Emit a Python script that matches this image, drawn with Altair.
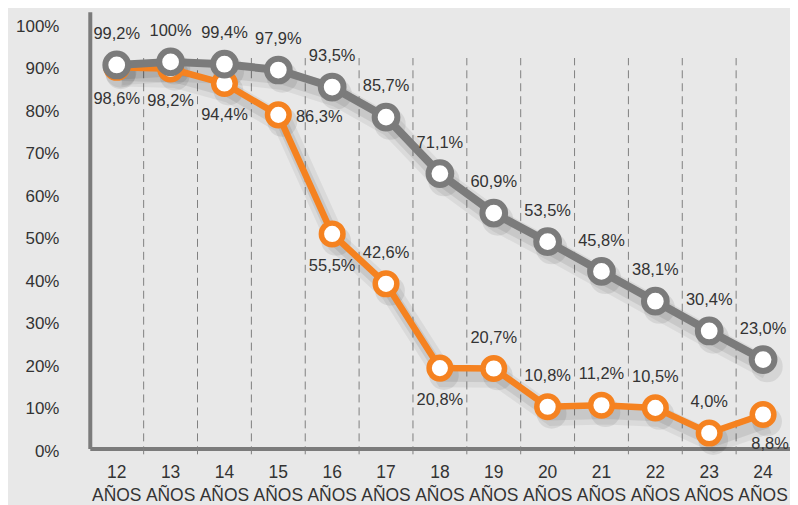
import altair as alt
import pandas as pd

AGES = ["12", "13", "14", "15", "16", "17", "18", "19", "20", "21", "22", "23", "24"]
GRAY_VALUES = [99.2, 100, 99.4, 97.9, 93.5, 85.7, 71.1, 60.9, 53.5, 45.8, 38.1, 30.4, 23.0]
ORANGE_VALUES = [98.6, 98.2, 94.4, 86.3, 55.5, 42.6, 20.8, 20.7, 10.8, 11.2, 10.5, 4.0, 8.8]
ORANGE_LABEL_SIDE = ["below", "below", "below", "right", "below", "above", "below",
                     "above", "above", "above", "above", "above", "belowright"]
Y_TICK_LABELS = ["0%", "10%", "20%", "30%", "40%", "50%", "60%", "70%", "80%", "90%", "100%"]

GRAY = "#7b7b7b"
ORANGE = "#f58220"
TEXT = "#333333"
FONT = "Liberation Sans"


def fmt(v):
    return "100%" if v == 100 else f"{v:.1f}".replace(".", ",") + "%"


gray = pd.DataFrame({"age": AGES, "v": GRAY_VALUES, "label": [fmt(v) for v in GRAY_VALUES]})
orange = pd.DataFrame({"age": AGES, "v": ORANGE_VALUES,
                       "label": [fmt(v) for v in ORANGE_VALUES], "side": ORANGE_LABEL_SIDE})
grid = pd.DataFrame({"age": AGES[1:]})

# the printed chart places 100% of the data at ~91% of its axis; tick i*11 is labelled i*10%
tick_vals = [i * 11 for i in range(len(Y_TICK_LABELS))]

x_scale = alt.Scale(type="band", domain=AGES, paddingInner=0, paddingOuter=0)
y_scale = alt.Scale(domain=[0, 113], nice=False)

x_axis = alt.Axis(title=None, domain=True, domainColor=GRAY, domainWidth=4, ticks=False, tickSize=0,
                  grid=False, labelAngle=0, labelFont=FONT, labelFontSize=17.5, labelColor=TEXT,
                  labelPadding=15, labelLineHeight=23, labelExpr="[datum.label, 'AÑOS']")
y_axis = alt.Axis(title=None, domain=True, domainColor=GRAY, domainWidth=4, ticks=False, tickSize=0,
                  grid=False, values=tick_vals, labelFont=FONT, labelFontSize=17, labelColor=TEXT,
                  labelPadding=31, labelOffset=3,
                  labelExpr="round(datum.value / 1.1) + '%'")

X = alt.X("age:N", scale=x_scale, axis=x_axis)
Xn = alt.X("age:N", scale=x_scale)
Y = alt.Y("v:Q", scale=y_scale, axis=y_axis)
Yn = alt.Y("v:Q", scale=y_scale)

gridlines = alt.Chart(grid).mark_rule(color="#7f7f7f", strokeWidth=1, strokeDash=[8, 5]).encode(
    x=alt.X("age:N", scale=x_scale, bandPosition=0, axis=x_axis),
    y=alt.datum(-1.5, scale=y_scale, axis=y_axis),
    y2=alt.datum(101),
)


def series(df, color, lw, size, sw):
    base = alt.Chart(df)
    sh1 = base.mark_line(color="black", opacity=0.06, strokeWidth=lw + 14, xOffset=5, yOffset=9).encode(x=Xn, y=Yn)
    sh2 = base.mark_line(color="black", opacity=0.08, strokeWidth=lw + 5, xOffset=4, yOffset=8).encode(x=Xn, y=Yn)
    psh = base.mark_circle(color="black", opacity=0.08, size=size * 1.9, xOffset=4, yOffset=7).encode(x=Xn, y=Yn)
    line = base.mark_line(color=color, strokeWidth=lw).encode(x=Xn, y=Yn)
    pts = base.mark_point(shape="circle", filled=True, fill="white", stroke=color, strokeWidth=sw,
                          size=size, opacity=1).encode(x=Xn, y=Yn)
    return [sh1, sh2, psh], [line, pts]


o_sh, o_main = series(orange, ORANGE, 6.5, 470, 5.5)
g_sh, g_main = series(gray, GRAY, 8, 520, 6)

txt = dict(font=FONT, fontSize=16.5, color=TEXT)
g_text = alt.Chart(gray).mark_text(dy=-31, **txt).encode(x=Xn, y=Yn, text="label:N")
ob = alt.Chart(orange).transform_filter("datum.side == 'below'").mark_text(dy=32, **txt).encode(x=Xn, y=Yn, text="label:N")
oa = alt.Chart(orange).transform_filter("datum.side == 'above'").mark_text(dy=-31, **txt).encode(x=Xn, y=Yn, text="label:N")
orr = alt.Chart(orange).transform_filter("datum.side == 'right'").mark_text(dx=41, dy=2, **txt).encode(x=Xn, y=Yn, text="label:N")
obr = alt.Chart(orange).transform_filter("datum.side == 'belowright'").mark_text(dx=7, dy=30, **txt).encode(x=Xn, y=Yn, text="label:N")

axes_holder = alt.Chart(gray).mark_point(opacity=0).encode(x=X, y=Y)

chart = alt.layer(
    axes_holder, gridlines, *o_sh, *g_sh, *o_main, *g_main, g_text, ob, oa, orr, obr
).properties(
    width=702, height=438,
    padding={"left": 82, "top": 3, "right": 0, "bottom": 56},
    autosize=alt.AutoSizeParams(type="none"),
    background="#e8e8e8",
).configure_view(stroke=None)

chart.save("out.html", embed_options={"renderer": "svg", "actions": False})
